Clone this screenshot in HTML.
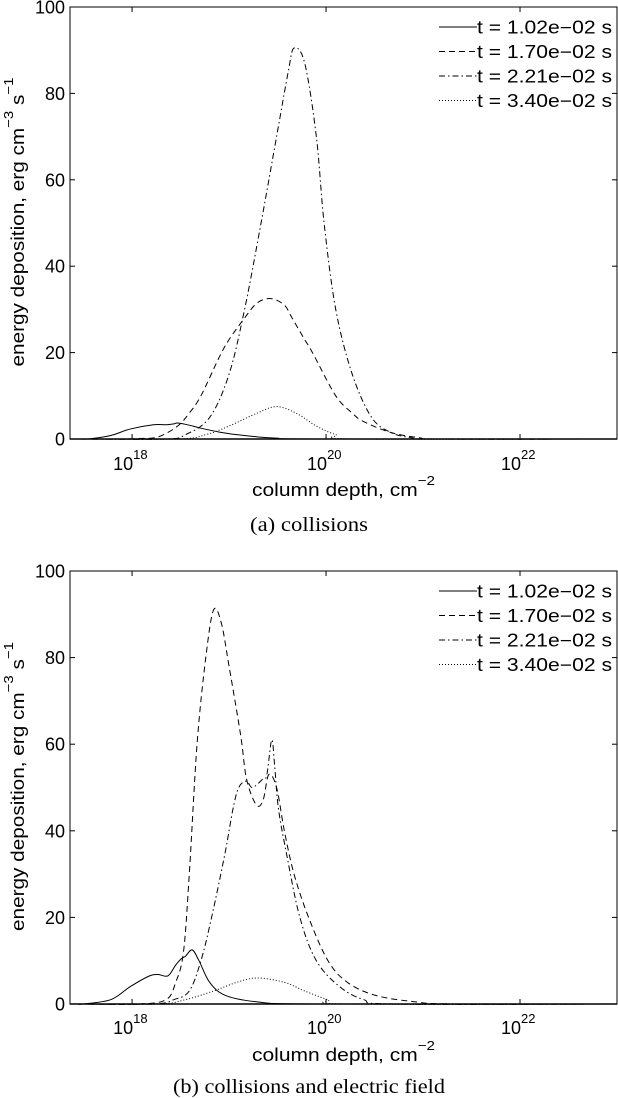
<!DOCTYPE html>
<html><head><meta charset="utf-8"><style>
html,body{margin:0;padding:0;background:#fff;}
svg{display:block;font-family:"Liberation Sans",sans-serif;}
</style></head><body>
<svg id="fig" width="618" height="1098" xmlns="http://www.w3.org/2000/svg"></svg>
<script>
// Shared axis ticks
const yTicks = [0, 20, 40, 60, 80, 100];
const xTickExps = [18, 20, 22];
const seriesLabels = ["t = 1.02e\u221202 s", "t = 1.70e\u221202 s", "t = 2.21e\u221202 s", "t = 3.40e\u221202 s"];
// Panel (a) collisions: x = log10(column depth), y = energy deposition
const a1x = [17.45,17.57,17.78,17.98,18.22,18.35,18.43,18.47,18.59,18.71,18.9,19.08,19.29,19.49,19.9,23];
const a1y = [0,0.05,0.8,2.3,3.3,3.3,3.5,3.7,3.2,2.5,1.6,1.0,0.5,0.2,0,0];
const a2x = [17.45,17.86,18.06,18.27,18.47,18.59,18.71,18.9,19.0,19.16,19.29,19.43,19.57,19.65,19.78,19.86,20.1,20.27,20.39,20.67,20.96,21.2,23];
const a2y = [0,0,0.1,0.5,3,6,10,19,23,28,31.5,32.5,31,28,23,20,10,6,4,1.5,0.3,0,0];
const a3x = [17.45,18.35,18.55,18.8,19.0,19.16,19.33,19.49,19.61,19.67,19.78,19.9,19.98,20.1,20.27,20.47,20.67,20.88,21.12,23];
const a3y = [0,0,1,5,15,30,50,70,85,90.5,87,70,50,30,15,5,1.5,0.3,0,0];
const a4x = [17.45,18.47,18.76,19.0,19.29,19.49,19.69,19.9,20.1,20.31,23];
const a4y = [0,0,1,3,6,7.5,6,3,1,0,0];
// Panel (b) collisions and electric field
const b1x = [17.45,17.49,17.78,17.98,18.18,18.27,18.37,18.45,18.51,18.55,18.62,18.69,18.8,18.96,19.29,19.9,23];
const b1y = [0,0,1,4,6.5,6.8,6.5,9,10.5,11,12.5,10,5,2,0.5,0,0];
const b2x = [17.45,18.06,18.35,18.45,18.53,18.59,18.67,18.76,18.84,18.92,19.0,19.12,19.18,19.28,19.35,19.41,19.49,19.57,19.67,19.82,20.02,20.22,20.51,20.92,21.33,23];
const b2y = [0,0,1,5,12,30,60,80,91,88,78,62,52,46,47,53,50,40,30,20,10,5,2,0.5,0,0];
const b3x = [17.45,18.22,18.43,18.59,18.71,18.82,18.96,19.04,19.1,19.18,19.24,19.35,19.39,19.44,19.47,19.51,19.59,19.73,19.9,20.14,20.39,20.71,23];
const b3y = [0,0,1,3,10,20,35,45,50,51.5,50,52,53,61,55,45,35,20,10,4,1,0,0];
const b4x = [17.45,18.27,18.55,18.84,19.08,19.29,19.57,19.78,20.02,20.22,23];
const b4y = [0,0,1,3,5,6,5,3,1,0,0];

const NS = "http://www.w3.org/2000/svg";
const svg = document.getElementById("fig");
const dashes = ["", "6,4", "6,3,1.5,3", "1,2"];
const X0 = 70, X1 = 617, XMIN = 17.36, XMAX = 23;
function xs(v){ return X0 + (v - XMIN) / (XMAX - XMIN) * (X1 - X0); }

function mk(tag, attrs, parent){
  const e = document.createElementNS(NS, tag);
  for (const k in attrs) e.setAttribute(k, attrs[k]);
  (parent || svg).appendChild(e);
  return e;
}
function smooth(pts){
  let d = "M" + pts[0][0].toFixed(2) + "," + pts[0][1].toFixed(2);
  for (let i = 0; i < pts.length - 1; i++){
    const p0 = pts[i-1] || pts[i], p1 = pts[i], p2 = pts[i+1], p3 = pts[i+2] || p2;
    const c1x = p1[0] + (p2[0]-p0[0])/6, c1y = p1[1] + (p2[1]-p0[1])/6;
    const c2x = p2[0] - (p3[0]-p1[0])/6, c2y = p2[1] - (p3[1]-p1[1])/6;
    d += " C" + c1x.toFixed(2)+","+c1y.toFixed(2)+" "+c2x.toFixed(2)+","+c2y.toFixed(2)+" "+p2[0].toFixed(2)+","+p2[1].toFixed(2);
  }
  return d;
}

function panel(id, Y0, Y1, series, caption, offs, capW){
  const g = mk("g", {});
  
  
  const ys = v => Y1 - v / 100 * (Y1 - Y0);
  yTicks.forEach(t => {
    const y = ys(t);
    const tl = mk("line", {x1:X0, x2:X0+5, y1:y, y2:y, stroke:"#000", "stroke-width":1}, g);
    
    
    mk("line", {x1:X1-5, x2:X1, y1:y, y2:y, stroke:"#000", "stroke-width":1}, g);
    const lab = mk("text", {x:65, y:y+6.5, "text-anchor":"end", "font-size":"18"}, g);
    lab.textContent = t;
    
    
  });
  xTickExps.forEach(e => {
    const x = xs(e);
    mk("line", {x1:x, x2:x, y1:Y1, y2:Y1-5, stroke:"#000", "stroke-width":1}, g);
    mk("line", {x1:x, x2:x, y1:Y0, y2:Y0+5, stroke:"#000", "stroke-width":1}, g);
    const lab = mk("text", {x:x-19, y:Y1+offs[0], "font-size":"18"}, g);
    
    
    lab.appendChild(document.createTextNode("10"));
    const s = mk("tspan", {dy:-11, "font-size":"13"}, lab);
    s.textContent = e;
  });
  series.forEach((s, i) => {
    const pts = s[0].map((v, k) => [xs(v), ys(s[1][k])]);
    const p = mk("path", {d: smooth(pts), fill:"none", stroke:"#000", "stroke-width":1, "stroke-dasharray":dashes[i]}, g);
    
    
  });
  const fr = mk("rect", {x:X0, y:Y0, width:X1-X0, height:Y1-Y0, fill:"none", stroke:"#000", "stroke-width":1}, g);
  
  
  mk("line", {x1:X0, x2:X1, y1:Y1, y2:Y1, stroke:"#000", "stroke-width":1.5}, g);
  const lg = mk("g", {}, g);
  
  
  seriesLabels.forEach((t, i) => {
    const y = Y0 + 20 + i * 24.5;
    const ln = mk("line", {x1:439, x2:477, y1:y, y2:y, stroke:"#000", "stroke-width":1, "stroke-dasharray":dashes[i]}, lg);
    
    
    const tx = mk("text", {x:477, y:y+6.5, "font-size":"18", textLength:"135", lengthAdjust:"spacingAndGlyphs"}, lg);
    tx.textContent = t;
    
    
  });
  const xt = mk("text", {x:252, y:Y1+offs[1], "font-size":"18", textLength:"183", lengthAdjust:"spacingAndGlyphs"}, g);
  
  
  xt.appendChild(document.createTextNode("column depth, cm"));
  const sx = mk("tspan", {dy:-11, "font-size":"13"}, xt); sx.textContent = "\u22122";
  const cy = (Y0 + Y1) / 2;
  const yt = mk("text", {x:0, y:0, "text-anchor":"middle", "font-size":"18", textLength:"289", lengthAdjust:"spacingAndGlyphs", transform:"translate(24,"+(cy-1)+") rotate(-90)"}, g);
  
  
  yt.appendChild(document.createTextNode("energy deposition, erg cm"));
  let t1 = mk("tspan", {dy:-11, "font-size":"13"}, yt); t1.textContent = "\u22123";
  let t2 = mk("tspan", {dy:11}, yt); t2.textContent = " s";
  let t3 = mk("tspan", {dy:-11, "font-size":"13"}, yt); t3.textContent = "\u22121";
  const cp = mk("text", {x:309, y:Y1+offs[2], "text-anchor":"middle", "font-size":"20", textLength:capW, lengthAdjust:"spacingAndGlyphs", "font-family":"Liberation Serif, serif"}, g);
  cp.textContent = caption;
  
  
}

panel("panel-collisions", 7, 439, [[a1x,a1y],[a2x,a2y],[a3x,a3y],[a4x,a4y]], "(a) collisions", [31, 57, 92], "118");
panel("panel-electric-field", 571, 1004, [[b1x,b1y],[b2x,b2y],[b3x,b3y],[b4x,b4y]], "(b) collisions and electric field", [30, 57, 89], "272");
</script>
</body></html>
